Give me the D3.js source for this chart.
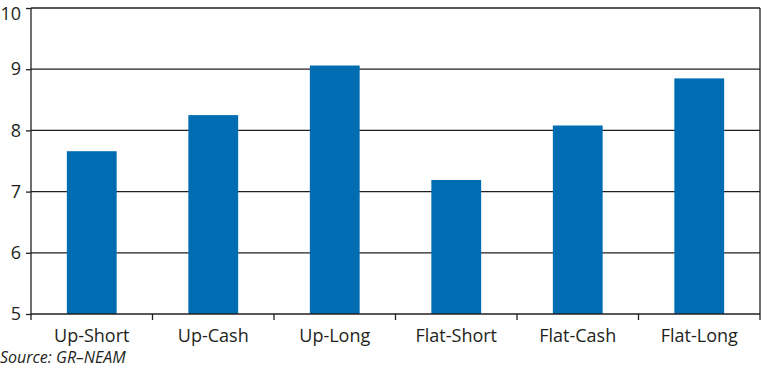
<!DOCTYPE html>
<html><head><meta charset="utf-8">
<script src="https://cdn.jsdelivr.net/npm/d3@7"></script>
<style>body{margin:0;background:#fff}svg{display:block}</style>
</head><body>
<script>
const categories = ["Up-Short","Up-Cash","Up-Long","Flat-Short","Flat-Cash","Flat-Long"];
const values = [7.66, 8.25, 9.06, 7.19, 8.08, 8.85];
const yTicks = [5,6,7,8,9,10];
const sourceText = "Source: GR\u2013NEAM";

const W = 768, H = 370;
const m = {left:31, right:8, top:8, bottom:56};
const svg = d3.select("body").append("svg").attr("width",W).attr("height",H);
const font = "'Open Sans', sans-serif";
const ink = "#231f20";

const x = d3.scaleBand().domain(categories).range([m.left, W-m.right]).paddingInner(0.59).paddingOuter(0.295);
const xOuter = d3.scaleBand().domain(categories).range([m.left, W-m.right]);
const y = d3.scaleLinear().domain([5,10]).range([H-m.bottom, m.top]);

// gridlines
svg.append("g").selectAll("line").data(yTicks.filter(d=>d>5)).join("line")
  .attr("x1", m.left).attr("x2", W-m.right)
  .attr("y1", d=>y(d)).attr("y2", d=>y(d))
  .attr("stroke", ink).attr("stroke-width", 1.3);

// right border
svg.append("line").attr("x1", W-m.right).attr("x2", W-m.right)
  .attr("y1", m.top).attr("y2", H-m.bottom).attr("stroke", ink).attr("stroke-width",1.3);

// bars
svg.append("g").selectAll("rect").data(categories).join("rect")
  .attr("x", d=>x(d)).attr("width", x.bandwidth())
  .attr("y", (d,i)=>y(values[i])).attr("height", (d,i)=>y(5)-y(values[i]))
  .attr("fill", "#006db3");

// y axis
const ya = svg.append("g").attr("transform", `translate(${m.left},0)`)
  .call(d3.axisLeft(y).tickValues(yTicks).tickSize(5).tickPadding(5).tickFormat(d3.format("d")));
ya.select(".domain").attr("stroke", ink).attr("stroke-width",1.3).attr("d", `M0,${m.top}V${H-m.bottom}`);
ya.selectAll(".tick line").attr("stroke", ink).attr("stroke-width",1.3);
ya.selectAll("text").attr("font-family", font).attr("font-size", 18).attr("fill", ink);
ya.selectAll(".tick").filter(d=>d===10).select("text").attr("dy", null).attr("y", 11);

// x axis
const xa = svg.append("g").attr("transform", `translate(0,${H-m.bottom})`);
xa.append("line").attr("x1", m.left).attr("x2", W-m.right).attr("stroke", ink).attr("stroke-width",1.3);
const bounds = categories.map(c=>xOuter(c)).concat([W-m.right]);
xa.selectAll("line.t").data(bounds).join("line").attr("class","t")
  .attr("x1", d=>d).attr("x2", d=>d).attr("y1",0).attr("y2",6)
  .attr("stroke", ink).attr("stroke-width",1.3);
xa.selectAll("text").data(categories).join("text")
  .attr("x", d=>xOuter(d)+xOuter.bandwidth()/2).attr("y", 28)
  .attr("text-anchor","middle").attr("font-family", font).attr("font-size", 18).attr("fill", ink)
  .text(d=>d);

svg.append("text").attr("x",0).attr("y",363).attr("font-family", font).attr("font-style","italic")
  .attr("font-size",16).attr("fill", ink).text(sourceText);
</script>
</body></html>
